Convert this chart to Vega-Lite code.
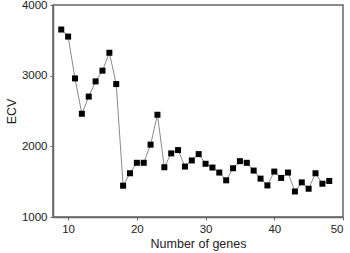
{
  "$schema": "https://vega.github.io/schema/vega-lite/v6.json",
  "width": 290,
  "height": 212,
  "autosize": {"type": "none"},
  "padding": {"left": 53, "top": 5, "right": 7, "bottom": 36},
  "config": {
    "view": {"stroke": "#666666", "strokeWidth": 1.5},
    "font": "Liberation Sans",
    "axis": {
      "grid": false,
      "domainColor": "#666666",
      "domainWidth": 1.5,
      "tickColor": "#666666",
      "tickSize": 3,
      "labelFont": "Liberation Sans",
      "labelFontSize": 11.5,
      "labelColor": "#222222",
      "titleFont": "Liberation Sans",
      "titleFontSize": 12.5,
      "titleFontWeight": "normal",
      "titleColor": "#222222"
    }
  },
  "data": {
    "values": [
      {"genes": 9, "ecv": 3653},
      {"genes": 10, "ecv": 3553},
      {"genes": 11, "ecv": 2961},
      {"genes": 12, "ecv": 2461},
      {"genes": 13, "ecv": 2704},
      {"genes": 14, "ecv": 2919},
      {"genes": 15, "ecv": 3071},
      {"genes": 16, "ecv": 3324},
      {"genes": 17, "ecv": 2881},
      {"genes": 18, "ecv": 1443},
      {"genes": 19, "ecv": 1619},
      {"genes": 20, "ecv": 1767},
      {"genes": 21, "ecv": 1767},
      {"genes": 22, "ecv": 2024},
      {"genes": 23, "ecv": 2447},
      {"genes": 24, "ecv": 1704},
      {"genes": 25, "ecv": 1900},
      {"genes": 26, "ecv": 1947},
      {"genes": 27, "ecv": 1714},
      {"genes": 28, "ecv": 1800},
      {"genes": 29, "ecv": 1890},
      {"genes": 30, "ecv": 1753},
      {"genes": 31, "ecv": 1700},
      {"genes": 32, "ecv": 1629},
      {"genes": 33, "ecv": 1519},
      {"genes": 34, "ecv": 1690},
      {"genes": 35, "ecv": 1790},
      {"genes": 36, "ecv": 1767},
      {"genes": 37, "ecv": 1657},
      {"genes": 38, "ecv": 1543},
      {"genes": 39, "ecv": 1447},
      {"genes": 40, "ecv": 1643},
      {"genes": 41, "ecv": 1553},
      {"genes": 42, "ecv": 1629},
      {"genes": 43, "ecv": 1361},
      {"genes": 44, "ecv": 1490},
      {"genes": 45, "ecv": 1400},
      {"genes": 46, "ecv": 1619},
      {"genes": 47, "ecv": 1471},
      {"genes": 48, "ecv": 1510}
    ]
  },
  "encoding": {
    "x": {
      "field": "genes",
      "type": "quantitative",
      "scale": {"domain": [7.8, 50], "nice": false, "zero": false},
      "axis": {"values": [10, 20, 30, 40, 50], "format": "d", "title": "Number of genes", "titlePadding": 3, "labelPadding": 3}
    },
    "y": {
      "field": "ecv",
      "type": "quantitative",
      "scale": {"domain": [1000, 4000], "nice": false, "zero": false},
      "axis": {"values": [1000, 2000, 3000, 4000], "format": "d", "title": "ECV", "titlePadding": 3, "labelPadding": 3}
    }
  },
  "layer": [
    {"mark": {"type": "line", "color": "#8a8a8a", "strokeWidth": 1}},
    {"mark": {"type": "square", "color": "#000000", "opacity": 1, "filled": true, "size": 36}}
  ]
}
